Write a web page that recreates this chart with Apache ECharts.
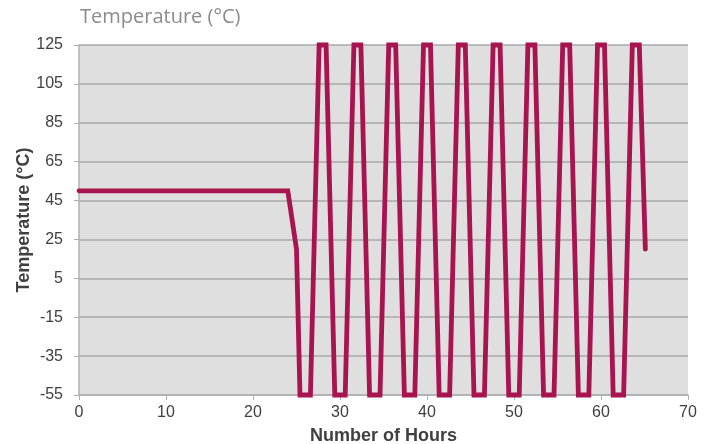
<!DOCTYPE html>
<html>
<head>
<meta charset="utf-8">
<script src="https://cdn.jsdelivr.net/npm/echarts@6/dist/echarts.min.js"></script>
<style>
  html, body { margin: 0; padding: 0; background: #fff; }
  #chart { width: 710px; height: 444px; }
</style>
</head>
<body>
<div id="chart"></div>
<script>
// Data
const hours = [0, 24, 25, 25.4, 26.6, 27.6, 28.4, 29.4, 30.6, 31.6, 32.4, 33.4, 34.6, 35.6, 36.4,
  37.4, 38.6, 39.6, 40.4, 41.4, 42.6, 43.6, 44.4, 45.4, 46.6, 47.6, 48.4, 49.4, 50.6, 51.6, 52.4,
  53.4, 54.6, 55.6, 56.4, 57.4, 58.6, 59.6, 60.4, 61.4, 62.6, 63.6, 64.4, 65.1];
const temps = [50, 50, 20, -55, -55, 125, 125, -55, -55, 125, 125, -55, -55, 125, 125,
  -55, -55, 125, 125, -55, -55, 125, 125, -55, -55, 125, 125, -55, -55, 125, 125,
  -55, -55, 125, 125, -55, -55, 125, 125, -55, -55, 125, 125, 20];
const yTicks = [-55, -35, -15, 5, 25, 45, 65, 85, 105, 125];
const xTicks = [0, 10, 20, 30, 40, 50, 60, 70];

const chart = echarts.init(document.getElementById('chart'), null, { renderer: 'canvas' });
const labelFont = { color: '#404040', fontSize: 16, fontFamily: 'Liberation Sans, Arial, sans-serif' };
const nameFont = { fontSize: 18, fontWeight: 'bold', color: '#404040', fontFamily: 'Liberation Sans, Arial, sans-serif' };
chart.setOption({
  animation: false,
  graphic: [{
    type: 'text', left: 80, top: 7,
    style: { text: 'Temperature (°C)', fill: '#8c8c8c', font: '20px "Open Sans", sans-serif' }
  }],
  grid: {
    left: 79, right: 22, top: 45, bottom: 49,
    outerBoundsMode: 'none', containLabel: false,
    show: true, backgroundColor: '#dfdfdf', borderWidth: 0
  },
  xAxis: {
    type: 'value', min: 0, max: 70, interval: 10,
    name: 'Number of Hours', nameLocation: 'middle', nameGap: 32, nameMoveOverlap: false,
    nameTextStyle: nameFont,
    axisLine: { show: true, onZero: false, lineStyle: { color: '#b0b0b0', width: 1.5 } },
    axisTick: { show: true, inside: false, length: 5, lineStyle: { color: '#b0b0b0' } },
    axisLabel: Object.assign({ margin: 10, customValues: xTicks }, labelFont),
    splitLine: { show: false }
  },
  yAxis: {
    type: 'value', min: -55, max: 125,
    name: 'Temperature (°C)', nameLocation: 'middle', nameGap: 46, nameRotate: 90, nameMoveOverlap: false,
    nameTextStyle: nameFont,
    axisLine: { show: true, onZero: false, lineStyle: { color: '#b0b0b0', width: 1.5 } },
    axisTick: { show: true, length: 5, customValues: yTicks, lineStyle: { color: '#b0b0b0' } },
    axisLabel: Object.assign({ margin: 16, customValues: yTicks }, labelFont),
    splitLine: { show: true, lineStyle: { color: '#a8a8a8', width: 1.5 } }
  },
  series: [{
    type: 'line',
    data: hours.map((h, i) => [h, temps[i]]),
    showSymbol: false,
    lineStyle: { color: '#a8144f', width: 4.8, cap: 'round', join: 'miter' },
    clip: false
  }]
});
</script>
</body>
</html>
